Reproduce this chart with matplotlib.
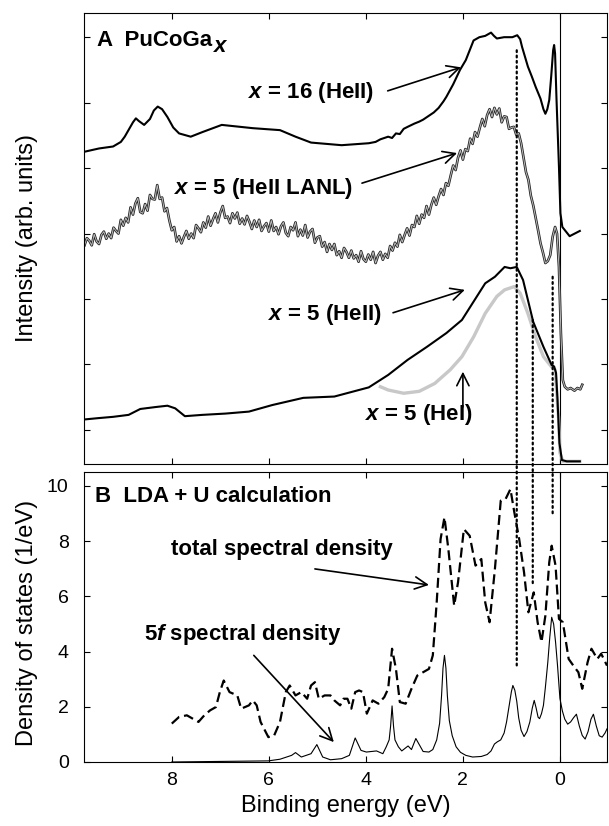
import matplotlib
matplotlib.use('Agg')
import matplotlib.pyplot as plt
from matplotlib.patches import ConnectionPatch

plt.rcParams['font.family'] = ['Liberation Sans', 'DejaVu Sans']
plt.rcParams['mathtext.fontset'] = 'custom'
plt.rcParams['mathtext.it'] = 'Liberation Sans:italic:bold'
plt.rcParams['mathtext.rm'] = 'Liberation Sans:bold'

# ── panel A: photoemission spectra (arb. units, offset) ─────────────────────
X16_E = [9.80, 9.50, 9.21, 9.05, 8.97, 8.80, 8.74, 8.68, 8.57, 8.45, 8.37, 8.29,
         8.20, 8.09, 7.97, 7.85, 7.61, 7.37, 6.97, 6.33, 5.77, 5.45, 5.13, 4.50,
         3.94, 3.80, 3.70, 3.54, 3.46, 3.38, 3.30, 3.22, 3.14, 3.00, 2.90, 2.82,
         2.74, 2.60, 2.50, 2.40, 2.34, 2.20, 2.06, 1.94, 1.78, 1.66, 1.54, 1.42,
         1.36, 1.30, 1.15, 0.98, 0.88, 0.82, 0.78, 0.72, 0.66, 0.58, 0.50, 0.40,
         0.34, 0.30, 0.26, 0.22, 0.18, 0.14, 0.12, 0.10, 0.07, 0.02, -0.01,
         -0.05, -0.20, -0.41]
X16_I = [4.25, 4.30, 4.33, 4.40, 4.48, 4.70, 4.76, 4.72, 4.66, 4.75, 4.88, 4.94,
         4.90, 4.78, 4.62, 4.53, 4.48, 4.55, 4.66, 4.61, 4.58, 4.48, 4.39, 4.35,
         4.38, 4.40, 4.44, 4.48, 4.46, 4.53, 4.52, 4.60, 4.63, 4.68, 4.71, 4.74,
         4.78, 4.85, 4.92, 5.02, 5.09, 5.28, 5.50, 5.65, 5.95, 6.00, 6.02, 6.07,
         6.02, 5.98, 6.00, 6.00, 6.03, 5.97, 5.85, 5.70, 5.55, 5.40, 5.24, 5.06,
         4.90, 4.83, 4.90, 5.04, 5.40, 5.80, 5.88, 5.75, 5.04, 4.02, 3.31,
         3.10, 2.96, 3.04]

LANL_E = [9.80, 9.75, 9.70, 9.65, 9.60, 9.55, 9.50, 9.45, 9.40, 9.35,
          9.30, 9.25, 9.20, 9.15, 9.10, 9.05, 9.00, 8.95, 8.90, 8.85,
          8.80, 8.75, 8.70, 8.65, 8.60, 8.55, 8.50, 8.45, 8.40, 8.35,
          8.30, 8.25, 8.20, 8.15, 8.10, 8.05, 8.00, 7.95, 7.90, 7.85,
          7.80, 7.75, 7.70, 7.65, 7.60, 7.55, 7.50, 7.45, 7.40, 7.35,
          7.30, 7.25, 7.20, 7.15, 7.10, 7.05, 7.00, 6.95, 6.90, 6.85,
          6.80, 6.75, 6.70, 6.65, 6.60, 6.55, 6.50, 6.45, 6.40, 6.35,
          6.30, 6.25, 6.20, 6.15, 6.10, 6.05, 6.00, 5.95, 5.90, 5.85,
          5.80, 5.75, 5.70, 5.65, 5.60, 5.55, 5.50, 5.45, 5.40, 5.35,
          5.30, 5.25, 5.20, 5.15, 5.10, 5.05, 5.00, 4.95, 4.90, 4.85,
          4.80, 4.75, 4.70, 4.65, 4.60, 4.55, 4.50, 4.45, 4.40, 4.35,
          4.30, 4.25, 4.20, 4.15, 4.10, 4.05, 4.00, 3.95, 3.90, 3.85,
          3.80, 3.75, 3.70, 3.65, 3.60, 3.55, 3.50, 3.45, 3.40, 3.35,
          3.30, 3.25, 3.20, 3.15, 3.10, 3.05, 3.00, 2.95, 2.90, 2.85,
          2.80, 2.75, 2.70, 2.65, 2.60, 2.55, 2.50, 2.45, 2.40, 2.35,
          2.30, 2.25, 2.20, 2.15, 2.10, 2.05, 2.00, 1.95, 1.90, 1.85,
          1.80, 1.75, 1.70, 1.65, 1.60, 1.55, 1.50, 1.45, 1.40, 1.35,
          1.30, 1.25, 1.20, 1.15, 1.10, 1.05, 1.00, 0.95, 0.90, 0.85,
          0.80, 0.75, 0.70, 0.65, 0.60, 0.55, 0.50, 0.45, 0.40, 0.35,
          0.30, 0.25, 0.20, 0.15, 0.10, 0.06, 0.02, -0.02, -0.06, -0.10,
          -0.16, -0.22, -0.30, -0.36, -0.42, -0.46]
LANL_I = [2.82, 2.93, 2.89, 2.82, 2.99, 2.88, 2.84, 2.98, 3.03, 2.92,
          3.00, 2.93, 3.09, 3.04, 3.00, 3.21, 3.12, 3.24, 3.17, 3.40,
          3.29, 3.46, 3.54, 3.33, 3.31, 3.45, 3.35, 3.59, 3.53, 3.52,
          3.74, 3.53, 3.55, 3.34, 3.39, 3.20, 3.05, 3.10, 2.88, 2.96,
          2.85, 2.95, 3.04, 2.92, 3.00, 2.93, 3.13, 3.08, 3.02, 3.17,
          3.09, 3.26, 3.12, 3.22, 3.31, 3.17, 3.32, 3.42, 3.24, 3.26,
          3.16, 3.31, 3.23, 3.32, 3.15, 3.23, 3.14, 3.27, 3.18, 3.07,
          3.20, 3.10, 3.21, 3.04, 3.11, 3.16, 3.03, 3.20, 3.04, 3.10,
          2.99, 3.11, 3.17, 3.01, 2.96, 3.10, 3.05, 3.17, 2.96, 3.06,
          2.97, 3.13, 2.94, 3.03, 3.07, 2.86, 2.94, 2.96, 2.80, 2.87,
          2.72, 2.84, 2.75, 2.84, 2.67, 2.73, 2.63, 2.78, 2.72, 2.63,
          2.74, 2.62, 2.67, 2.57, 2.73, 2.61, 2.57, 2.68, 2.60, 2.72,
          2.55, 2.66, 2.72, 2.60, 2.69, 2.63, 2.81, 2.74, 2.86, 2.80,
          2.98, 2.87, 2.98, 3.08, 2.97, 3.13, 3.10, 3.27, 3.15, 3.29,
          3.24, 3.42, 3.29, 3.44, 3.55, 3.44, 3.57, 3.68, 3.59, 3.77,
          3.73, 3.89, 4.04, 3.97, 4.16, 4.27, 4.13, 4.29, 4.26, 4.45,
          4.37, 4.55, 4.48, 4.62, 4.75, 4.64, 4.81, 4.90, 4.78, 4.92,
          4.82, 4.91, 4.70, 4.79, 4.78, 4.60, 4.62, 4.63, 4.51, 4.53,
          4.38, 4.16, 3.94, 3.82, 3.58, 3.43, 3.24, 3.05, 2.85, 2.71,
          2.55, 2.58, 2.67, 2.95, 3.10, 3.00, 2.49, 1.48, 0.76, 0.66,
          0.62, 0.64, 0.60, 0.64, 0.62, 0.69]

X5_E = [9.80, 9.52, 9.21, 8.89, 8.65, 8.33, 8.09, 7.93, 7.73, 7.37, 6.89, 6.41,
        5.93, 5.29, 4.65, 3.94, 3.54, 3.14, 2.74, 2.34, 2.02, 1.78, 1.54, 1.34,
        1.14, 1.02, 0.89, 0.76, 0.55, 0.34, 0.17, 0.12, 0.08, 0.05, 0.01, -0.04,
        -0.14, -0.41]
X5_I = [0.16, 0.18, 0.20, 0.23, 0.32, 0.35, 0.37, 0.33, 0.21, 0.23, 0.25, 0.28,
        0.38, 0.49, 0.51, 0.65, 0.84, 1.07, 1.27, 1.48, 1.68, 1.96, 2.24, 2.34,
        2.49, 2.47, 2.49, 2.29, 1.65, 1.27, 0.99, 0.97, 0.87, 0.46, -0.20, -0.46,
        -0.48, -0.48]

HEI_E = [3.70, 3.54, 3.22, 2.90, 2.58, 2.26, 2.02, 1.78, 1.54, 1.30, 1.14, 0.94,
         0.82, 0.66, 0.50, 0.34, 0.18, 0.10, 0.03, 0.00, -0.06, -0.41]
HEI_I = [0.66, 0.61, 0.56, 0.59, 0.71, 0.92, 1.12, 1.42, 1.78, 2.04, 2.14, 2.19,
         2.09, 1.78, 1.42, 1.12, 0.97, 0.92, 0.20, -0.35, -0.48, -0.48]

# ── panel B: LDA+U spectral densities (1/eV) ────────────────────────────────
TOT_E = [8.00, 7.85, 7.69, 7.57, 7.45, 7.33, 7.21, 7.09, 7.01, 6.93, 6.81, 6.65,
         6.57, 6.41, 6.33, 6.25, 6.17, 6.01, 5.89, 5.77, 5.65, 5.57, 5.45, 5.33,
         5.21, 5.13, 5.05, 4.97, 4.85, 4.73, 4.65, 4.53, 4.46, 4.38, 4.30, 4.22,
         4.14, 4.06, 3.98, 3.86, 3.74, 3.62, 3.54, 3.46, 3.38, 3.30, 3.18, 3.06,
         2.94, 2.82, 2.70, 2.62, 2.54, 2.46, 2.38, 2.30, 2.18, 2.10, 1.98, 1.86,
         1.74, 1.62, 1.54, 1.45, 1.34, 1.22, 1.12, 1.02, 0.94, 0.84, 0.74, 0.65,
         0.54, 0.46, 0.38, 0.30, 0.22, 0.17, 0.09, 0.02, -0.06, -0.18, -0.30,
         -0.38, -0.46, -0.57, -0.65, -0.77, -0.85, -0.97]
TOT_D = [1.39, 1.63, 1.69, 1.57, 1.45, 1.69, 1.87, 1.99, 2.53, 2.95, 2.53, 2.41,
         1.93, 2.05, 2.23, 2.05, 1.45, 0.90, 0.96, 1.45, 2.53, 2.77, 2.41, 2.53,
         2.29, 2.77, 2.89, 2.29, 2.41, 2.41, 2.23, 2.05, 2.29, 2.29, 1.93, 2.53,
         2.59, 2.53, 1.75, 2.23, 2.11, 2.35, 2.65, 4.10, 3.37, 2.17, 2.11, 2.65,
         3.13, 3.25, 3.37, 3.86, 5.78, 8.07, 8.86, 7.71, 5.66, 6.51, 8.43, 8.19,
         7.11, 7.35, 5.78, 5.06, 6.99, 9.46, 9.52, 9.88, 9.04, 8.07, 6.87, 5.42,
         6.14, 5.06, 4.34, 5.30, 7.23, 7.83, 7.11, 5.18, 5.06, 3.73, 3.43,
         3.25, 2.65, 3.61, 4.10, 3.73, 3.92, 3.49]

F5_E = [8.00, 6.01, 5.77, 5.53, 5.45, 5.33, 5.13, 5.01, 4.89, 4.73, 4.50, 4.34,
        4.22, 4.10, 3.99, 3.78, 3.65, 3.58, 3.52, 3.49, 3.46, 3.43, 3.40, 3.33,
        3.26, 3.13, 3.06, 2.97, 2.82, 2.70, 2.62, 2.54, 2.48, 2.44, 2.41, 2.38,
        2.35, 2.32, 2.28, 2.22, 2.14, 2.05, 1.94, 1.80, 1.62, 1.50, 1.42, 1.35,
        1.29, 1.22, 1.15, 1.10, 1.05, 1.00, 0.97, 0.93, 0.89, 0.85, 0.80, 0.74,
        0.68, 0.62, 0.57, 0.53, 0.49, 0.45, 0.42, 0.38, 0.34, 0.30, 0.25, 0.21,
        0.17, 0.13, 0.09, 0.05, 0.00, -0.05, -0.10, -0.16, -0.22, -0.28, -0.34,
        -0.40, -0.46, -0.52, -0.58, -0.64, -0.69, -0.75, -0.81, -0.87, -0.93,
        -0.97]
F5_D = [0.00, 0.04, 0.10, 0.24, 0.34, 0.18, 0.30, 0.63, 0.18, 0.08, 0.12, 0.24,
        0.87, 0.42, 0.36, 0.40, 0.30, 0.55, 0.80, 1.30, 2.03, 1.30, 0.80, 0.55,
        0.40, 0.58, 0.45, 0.85, 0.38, 0.36, 0.45, 0.80, 1.40, 2.40, 3.40, 3.86,
        3.40, 2.40, 1.50, 0.95, 0.55, 0.35, 0.24, 0.18, 0.20, 0.27, 0.40, 0.65,
        0.73, 0.80, 1.05, 1.45, 2.00, 2.55, 2.77, 2.60, 2.20, 1.60, 1.15, 0.92,
        1.10, 1.45, 1.95, 2.23, 1.95, 1.62, 1.57, 1.75, 2.05, 2.70, 3.61, 4.50,
        5.24, 5.00, 4.34, 3.50, 2.30, 1.85, 1.55, 1.37, 1.45, 1.60, 1.73,
        1.30, 0.96, 0.83, 1.10, 1.55, 1.73, 1.30, 0.95, 0.90, 1.05,
        1.20]

# dotted guide lines: energy, top in A, bottom in B
GUIDE_E = [0.89, 0.56, 0.15]
GUIDE_A = [5.80, 1.68, 2.34]
GUIDE_B = [3.43, 6.39, 8.90]

fig = plt.figure(figsize=(6.09, 8.26), dpi=100)
axA = fig.add_axes([0.1379, 0.4383, 0.8588, 0.5460])
axB = fig.add_axes([0.1379, 0.0775, 0.8588, 0.3511])

for ax in (axA, axB):
    ax.set_xlim(9.81, -0.97)
    ax.set_xticks([8, 6, 4, 2, 0])
    ax.tick_params(direction='in', top=True, right=True, length=4.5,
                   width=0.8, labelsize=14)
    ax.tick_params(axis='x', pad=7.5)
    ax.tick_params(axis='y', pad=11)
    for sp in ax.spines.values():
        sp.set_linewidth(0.8)
    ax.axvline(0, color='k', lw=0.8)

# ── A ──
axA.set_ylim(-0.52, 6.37)
axA.set_yticks(range(7))
axA.tick_params(labelbottom=False, labelleft=False)
axA.plot(X16_E, X16_I, color='k', lw=1.5)
axA.plot(LANL_E, LANL_I, color='#222222', lw=1.9)
axA.plot(LANL_E, LANL_I, color='#bdbdbd', lw=0.7)
axA.plot(HEI_E, HEI_I, color='#c8c8c8', lw=2.4)
axA.plot(X5_E, X5_I, color='k', lw=1.5)
axA.set_ylabel('Intensity (arb. units)', fontsize=17)
axA.yaxis.set_label_coords(-0.088, 0.5)

tA = axA.text(0.025, 0.94, 'A  PuCoGa', transform=axA.transAxes,
              fontsize=16, fontweight='bold', va='center')
axA.annotate('x', xy=(1, 0), xycoords=tA, xytext=(1, 3),
             textcoords='offset points', fontsize=16, fontweight='bold',
             style='italic', va='center')

arw = dict(arrowstyle='->', color='k', lw=1.2, mutation_scale=22,
           shrinkA=0, shrinkB=0)
kw = dict(fontsize=16, fontweight='bold', ha='right', va='center')
axA.annotate('', xy=(2.04, 5.54), xytext=(3.55, 5.18), arrowprops=arw)
axA.text(3.84, 5.16, r'$\mathit{x}$ = 16 (HeII)', **kw)
axA.annotate('', xy=(2.12, 4.23), xytext=(4.08, 3.77), arrowprops=arw)
axA.text(4.27, 3.69, r'$\mathit{x}$ = 5 (HeII LANL)', **kw)
axA.annotate('', xy=(1.96, 2.14), xytext=(3.44, 1.79), arrowprops=arw)
axA.text(3.67, 1.76, r'$\mathit{x}$ = 5 (HeII)', **kw)
axA.annotate('', xy=(2.0, 0.89), xytext=(2.0, 0.35), arrowprops=arw)
axA.text(2.90, 0.23, r'$\mathit{x}$ = 5 (HeI)', fontweight='bold',
         fontsize=16, ha='center', va='center')

# ── B ──
axB.set_ylim(0, 10.5)
axB.set_yticks([0, 2, 4, 6, 8, 10])
axB.plot(TOT_E, TOT_D, color='k', lw=1.6, ls=(0, (4.5, 2.2)))
axB.plot(F5_E, F5_D, color='k', lw=0.8)
axB.set_xlabel('Binding energy (eV)', fontsize=17, labelpad=4)
axB.set_ylabel('Density of states (1/eV)', fontsize=17)
axB.yaxis.set_label_coords(-0.088, 0.48)

axB.text(0.021, 0.914, 'B  LDA + U calculation', transform=axB.transAxes,
         fontsize=16, fontweight='bold', va='center')
axB.annotate('', xy=(2.70, 6.41), xytext=(5.05, 6.99), arrowprops=arw)
axB.text(5.74, 7.68, 'total spectral density', fontsize=16, fontweight='bold',
         ha='center', va='center')
axB.annotate('', xy=(4.66, 0.72), xytext=(6.31, 3.86), arrowprops=arw)
axB.text(6.54, 4.61, r'5$\mathit{f}$ spectral density', fontsize=16,
         fontweight='bold', ha='center', va='center')

for e, ya, yb in zip(GUIDE_E, GUIDE_A, GUIDE_B):
    con = ConnectionPatch(xyA=(e, ya), coordsA=axA.transData,
                          xyB=(e, yb), coordsB=axB.transData,
                          color='k', lw=1.6, ls=(0, (0.8, 1.6)))
    fig.add_artist(con)

fig.savefig('out.png', dpi=100)
